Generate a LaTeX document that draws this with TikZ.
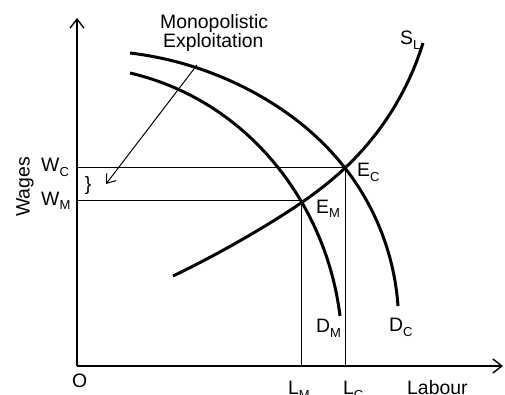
\documentclass[tikz,border=0pt]{standalone}
\usepackage{fontspec}
\setmainfont{Liberation Sans}
\usetikzlibrary{arrows.meta,hobby}
\newcommand{\lowtxt}[1]{\raisebox{-5pt}{\fontsize{13}{13}\selectfont #1}}
\begin{document}
\begin{tikzpicture}[x=1pt,y=-1pt,
  lbl/.style={inner sep=0pt,anchor=base west,font=\fontsize{19.4}{23}\selectfont},
  axis/.style={line width=1.6pt,-{Straight Barb[length=9pt,width=14pt,line width=1.4pt]}},
  curve/.style={line width=3pt,use Hobby shortcut},
  guide/.style={line width=1pt}]
\useasboundingbox (0,0) rectangle (505,395);
\coordinate (O) at (77,366);
\coordinate (ytop) at (77,18);
\coordinate (xend) at (503,366);
\coordinate (EC) at (345,168);
\coordinate (EM) at (301,201);
\coordinate (WC) at (77,168);
\coordinate (WM) at (77,201);
\coordinate (LC) at (345,366);
\coordinate (LM) at (301,366);
\coordinate (arrS) at (197,65);
\coordinate (arrE) at (106,184);
% guides
\draw[guide] (WC) -- (EC) -- (LC);
\draw[guide] (WM) -- (EM) -- (LM);
% axes
\draw[axis] (O) -- (ytop);
\draw[axis] (O) -- (xend);
% curves
\draw[curve] (130,53) .. (253,92) .. (EC) .. (398,306);
\draw[curve] (130,73) .. (220,113) .. (EM) .. (340,316);
\draw[curve] (173,276) .. (270,223) .. (EC) .. (423,43);
% exploitation arrow
\draw[line width=1pt,-{Straight Barb[length=8pt,width=12pt,line width=1pt]}] (arrS) -- (arrE);
% labels
\node[lbl] (mono) at (160,29) {Monopolistic};
\node[lbl] (expl) at (163,48) {Exploitation};
\node[lbl,rotate=90,anchor=center] (wages) at (25,187) {Wages};
\node[lbl] (lwc) at (41,172) {W\lowtxt{C}};
\node[lbl] (lwm) at (41,205) {W\lowtxt{M}};
\node[lbl,anchor=center] (brace) at (88,185) {\}};
\node[lbl] (lec) at (357,177) {E\lowtxt{C}};
\node[lbl] (lem) at (316,213) {E\lowtxt{M}};
\node[lbl] (lsl) at (400,45) {S\lowtxt{L}};
\node[lbl] (ldm) at (316,332) {D\lowtxt{M}};
\node[lbl] (ldc) at (389,331) {D\lowtxt{C}};
\node[lbl] (lo) at (72,387) {O};
\node[lbl] (llm) at (288,394) {L\lowtxt{M}};
\node[lbl] (llc) at (343,394) {L\lowtxt{C}};
\node[lbl] (llab) at (407,394) {Labour};
\end{tikzpicture}
\end{document}
